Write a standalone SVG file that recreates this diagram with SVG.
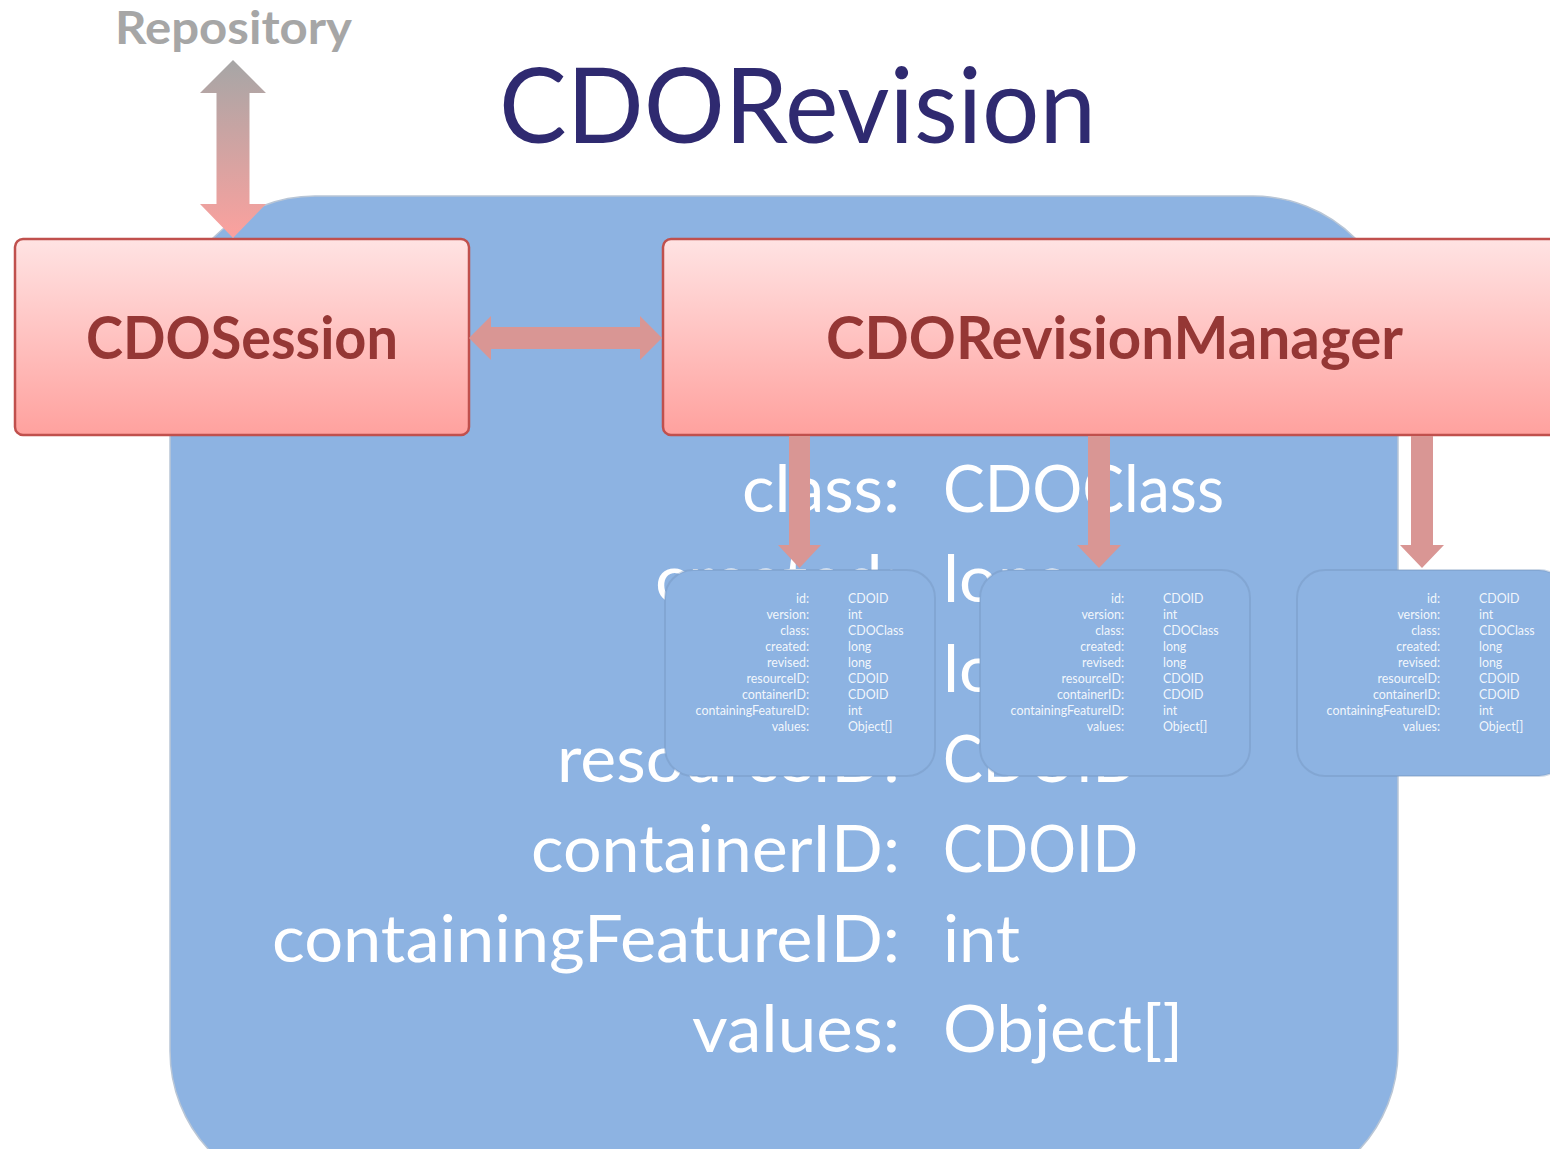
<svg xmlns="http://www.w3.org/2000/svg" width="1550" height="1149" viewBox="0 0 1550 1149">
<style>
  .title{font-family:Lato,"Liberation Sans",sans-serif;font-size:105px;fill:#2f2a70;}
  .repo{font-family:Lato,"Liberation Sans",sans-serif;font-size:45px;font-weight:bold;fill:#a6a6a6;}
  .nodebox{fill:url(#pink);stroke:#c0504d;stroke-width:2.5;}
  .nodelabel{font-family:Lato,"Liberation Sans",sans-serif;font-size:59px;font-weight:bold;fill:#953735;}
  .big{font-family:Lato,"Liberation Sans",sans-serif;font-size:66px;fill:#ffffff;}
  .rev{fill:#8db3e2;stroke:#7190b8;stroke-opacity:0.35;stroke-width:2;}
  .sm{font-family:Lato,"Liberation Sans",sans-serif;font-size:12.4px;fill:#ffffff;fill-opacity:0.9;}
  .lab{text-anchor:end;}
  .arrow{fill:#d99694;}
</style>
<defs>
  <linearGradient id="pink" x1="0" y1="0" x2="0" y2="1">
    <stop offset="0" stop-color="#ffe3e3"/>
    <stop offset="1" stop-color="#ffa19e"/>
  </linearGradient>
  <linearGradient id="repograd" gradientUnits="userSpaceOnUse" x1="0" y1="60" x2="0" y2="238">
    <stop offset="0" stop-color="#a6a6a6"/>
    <stop offset="1" stop-color="#fca19e"/>
  </linearGradient>
</defs>
<rect width="1550" height="1149" fill="#ffffff"/>

<g id="title">
  <text class="title" x="499" y="143" textLength="597" lengthAdjust="spacingAndGlyphs">CDORevision</text>
</g>
<g id="repository">
  <text class="repo" x="115" y="44" textLength="237" lengthAdjust="spacingAndGlyphs">Repository</text>
</g>

<g id="revision-container">
  <rect x="170" y="196" width="1228" height="1000" rx="145" ry="145" fill="#8db3e2" stroke="#b9c6d6" stroke-width="1.5"/>
  <g id="revision-fields">
    <text class="big" x="742" y="512" textLength="158" lengthAdjust="spacingAndGlyphs">class:</text>
    <text class="big" x="943" y="512" textLength="281" lengthAdjust="spacingAndGlyphs">CDOClass</text>
    <text class="big" x="655" y="602" textLength="245" lengthAdjust="spacingAndGlyphs">created:</text>
    <text class="big" x="943" y="602" textLength="128" lengthAdjust="spacingAndGlyphs">long</text>
    <text class="big" x="666" y="692" textLength="234" lengthAdjust="spacingAndGlyphs">revised:</text>
    <text class="big" x="943" y="692" textLength="128" lengthAdjust="spacingAndGlyphs">long</text>
    <text class="big" x="557" y="782" textLength="343" lengthAdjust="spacingAndGlyphs">resourceID:</text>
    <text class="big" x="943" y="782" textLength="195" lengthAdjust="spacingAndGlyphs">CDOID</text>
    <text class="big" x="531" y="872" textLength="369" lengthAdjust="spacingAndGlyphs">containerID:</text>
    <text class="big" x="943" y="872" textLength="195" lengthAdjust="spacingAndGlyphs">CDOID</text>
    <text class="big" x="272" y="962" textLength="628" lengthAdjust="spacingAndGlyphs">containingFeatureID:</text>
    <text class="big" x="943" y="962" textLength="77" lengthAdjust="spacingAndGlyphs">int</text>
    <text class="big" x="692" y="1052" textLength="208" lengthAdjust="spacingAndGlyphs">values:</text>
    <text class="big" x="943" y="1052" textLength="240" lengthAdjust="spacingAndGlyphs">Object[]</text>
  </g>
</g>

<g id="cdo-session">
  <rect class="nodebox" x="15" y="239" width="454" height="196" rx="8" ry="8"/>
  <text class="nodelabel" x="86" y="359" textLength="312" lengthAdjust="spacingAndGlyphs">CDOSession</text>
</g>

<g id="cdo-revision-manager">
  <rect class="nodebox" x="663" y="239" width="910" height="196" rx="8" ry="8"/>
  <text class="nodelabel" x="826" y="359" textLength="577" lengthAdjust="spacingAndGlyphs">CDORevisionManager</text>
</g>

<g id="revision-1">
  <rect class="rev" x="665" y="570" width="270" height="206" rx="28" ry="28"/>
  <g class="sm">
    <text class="lab" x="809" y="603">id:</text><text x="848" y="603">CDOID</text>
    <text class="lab" x="809" y="619">version:</text><text x="848" y="619">int</text>
    <text class="lab" x="809" y="635">class:</text><text x="848" y="635">CDOClass</text>
    <text class="lab" x="809" y="651">created:</text><text x="848" y="651">long</text>
    <text class="lab" x="809" y="667">revised:</text><text x="848" y="667">long</text>
    <text class="lab" x="809" y="683">resourceID:</text><text x="848" y="683">CDOID</text>
    <text class="lab" x="809" y="699">containerID:</text><text x="848" y="699">CDOID</text>
    <text class="lab" x="809" y="715">containingFeatureID:</text><text x="848" y="715">int</text>
    <text class="lab" x="809" y="731">values:</text><text x="848" y="731">Object[]</text>
  </g>
</g>

<g id="revision-2">
  <rect class="rev" x="980" y="570" width="270" height="206" rx="28" ry="28"/>
  <g class="sm">
    <text class="lab" x="1124" y="603">id:</text><text x="1163" y="603">CDOID</text>
    <text class="lab" x="1124" y="619">version:</text><text x="1163" y="619">int</text>
    <text class="lab" x="1124" y="635">class:</text><text x="1163" y="635">CDOClass</text>
    <text class="lab" x="1124" y="651">created:</text><text x="1163" y="651">long</text>
    <text class="lab" x="1124" y="667">revised:</text><text x="1163" y="667">long</text>
    <text class="lab" x="1124" y="683">resourceID:</text><text x="1163" y="683">CDOID</text>
    <text class="lab" x="1124" y="699">containerID:</text><text x="1163" y="699">CDOID</text>
    <text class="lab" x="1124" y="715">containingFeatureID:</text><text x="1163" y="715">int</text>
    <text class="lab" x="1124" y="731">values:</text><text x="1163" y="731">Object[]</text>
  </g>
</g>

<g id="revision-3">
  <rect class="rev" x="1297" y="570" width="270" height="206" rx="28" ry="28"/>
  <g class="sm">
    <text class="lab" x="1440" y="603">id:</text><text x="1479" y="603">CDOID</text>
    <text class="lab" x="1440" y="619">version:</text><text x="1479" y="619">int</text>
    <text class="lab" x="1440" y="635">class:</text><text x="1479" y="635">CDOClass</text>
    <text class="lab" x="1440" y="651">created:</text><text x="1479" y="651">long</text>
    <text class="lab" x="1440" y="667">revised:</text><text x="1479" y="667">long</text>
    <text class="lab" x="1440" y="683">resourceID:</text><text x="1479" y="683">CDOID</text>
    <text class="lab" x="1440" y="699">containerID:</text><text x="1479" y="699">CDOID</text>
    <text class="lab" x="1440" y="715">containingFeatureID:</text><text x="1479" y="715">int</text>
    <text class="lab" x="1440" y="731">values:</text><text x="1479" y="731">Object[]</text>
  </g>
</g>

<g id="connectors">
  <polygon id="repo-session" fill="url(#repograd)" points="233,60 266,93 249.5,93 249.5,204 266,204 233,238 200,204 216.5,204 216.5,93 200,93"/>
  <polygon id="session-manager" class="arrow" points="469,338 491,316 491,327 640,327 640,316 662,338 640,360 640,349 491,349 491,360"/>
  <polygon id="manager-rev1" class="arrow" points="789,436 810,436 810,545 821,545 799.5,568 778,545 789,545"/>
  <polygon id="manager-rev2" class="arrow" points="1088,436 1110,436 1110,545 1121,545 1099,568 1077,545 1088,545"/>
  <polygon id="manager-rev3" class="arrow" points="1411,436 1433,436 1433,545 1444,545 1422,568 1400,545 1411,545"/>
</g>
</svg>
